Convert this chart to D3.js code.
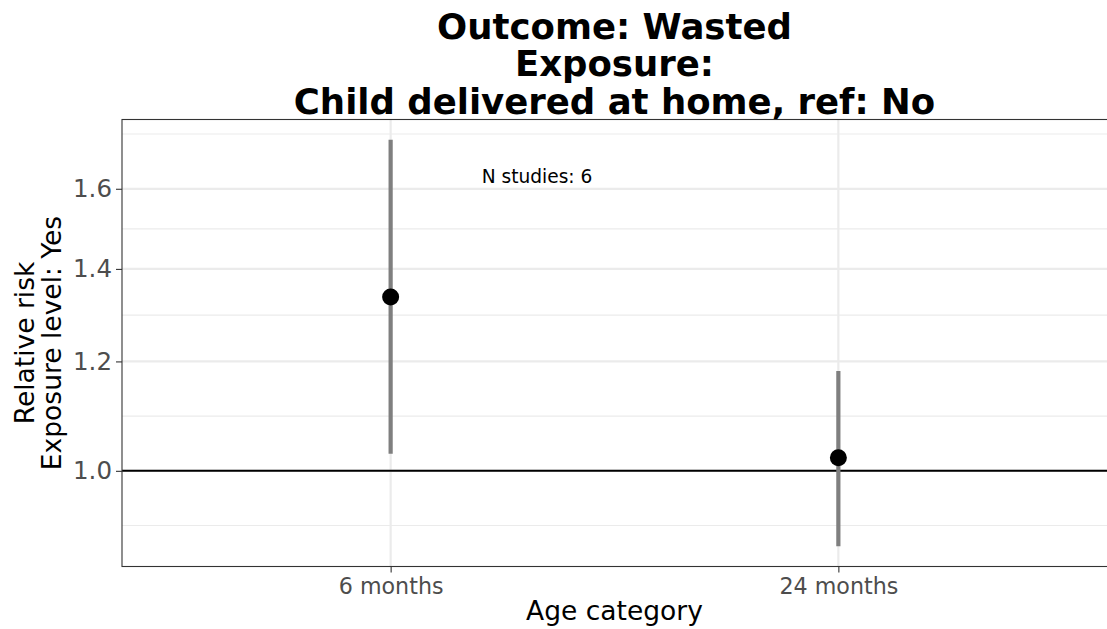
<!DOCTYPE html>
<html>
<head>
<meta charset="utf-8">
<script src="https://cdn.jsdelivr.net/npm/d3@7"></script>
<style>
  html, body { margin: 0; padding: 0; background: #fff; }
  svg text { font-family: "DejaVu Sans", sans-serif; }
</style>
</head>
<body>
<svg id="chart" width="1107" height="629"></svg>
<script>
// ---- data ----
const categories = ["6 months", "24 months"];
const estimates = [1.336, 1.022];
const ciLower = [1.029, 0.882];
const ciUpper = [1.736, 1.181];
const yTickValues = [1.0, 1.2, 1.4, 1.6];
const yTickLabels = ["1.0", "1.2", "1.4", "1.6"];
const titleLines = ["Outcome: Wasted", "Exposure:", "Child delivered at home, ref: No"];
const yTitleLines = ["Relative risk", "Exposure level: Yes"];
const xTitle = "Age category";
const annotation = "N studies: 6";
const refValue = 1.0;

const svg = d3.select("#chart");
const W = 1107, H = 629;
const margin = { left: 122, right: 0, top: 119.5, bottom: 62.5 };
const pw = W - margin.left - margin.right;
const ph = H - margin.top - margin.bottom;

// log y scale with ggplot-like 5% expansion in transformed space
const lo = Math.log(d3.min(ciLower)), hi = Math.log(d3.max(ciUpper));
const pad = (hi - lo) * 0.05;
const y = d3.scaleLog()
  .domain([Math.exp(lo - pad), Math.exp(hi + pad)])
  .range([margin.top + ph, margin.top]);

// discrete x with 0.6 expansion
const xIdx = d3.scaleLinear().domain([0.4, categories.length + 0.6])
  .range([margin.left, margin.left + pw]);
const x = c => xIdx(categories.indexOf(c) + 1);

const g = svg.append("g");

// minor grid (midpoints in log space, extended one step each way)
const lt = yTickValues.map(Math.log);
const step = lt[1] - lt[0];
const ext = [lt[0] - step, ...lt, lt[lt.length - 1] + step];
const minors = [];
for (let i = 0; i < ext.length - 1; i++) minors.push(Math.exp((ext[i] + ext[i + 1]) / 2));
const [dlo, dhi] = y.domain();
g.selectAll(".minor").data(minors.filter(v => v >= dlo && v <= dhi)).enter()
  .append("line")
  .attr("x1", margin.left).attr("x2", margin.left + pw)
  .attr("y1", d => y(d)).attr("y2", d => y(d))
  .attr("stroke", "#ebebeb").attr("stroke-width", 1.1);

// major grid
g.selectAll(".majorY").data(yTickValues).enter()
  .append("line")
  .attr("x1", margin.left).attr("x2", margin.left + pw)
  .attr("y1", d => y(d)).attr("y2", d => y(d))
  .attr("stroke", "#ebebeb").attr("stroke-width", 2.2);
g.selectAll(".majorX").data(categories).enter()
  .append("line")
  .attr("x1", d => x(d)).attr("x2", d => x(d))
  .attr("y1", margin.top).attr("y2", margin.top + ph)
  .attr("stroke", "#ebebeb").attr("stroke-width", 2.2);

// reference line
g.append("line")
  .attr("x1", margin.left).attr("x2", margin.left + pw)
  .attr("y1", y(refValue)).attr("y2", y(refValue))
  .attr("stroke", "#000").attr("stroke-width", 2);

// error bars
g.selectAll(".err").data(categories).enter()
  .append("line")
  .attr("x1", d => x(d)).attr("x2", d => x(d))
  .attr("y1", (d, i) => y(ciLower[i])).attr("y2", (d, i) => y(ciUpper[i]))
  .attr("stroke", "#7f7f7f").attr("stroke-width", 4.2);

// points
g.selectAll(".pt").data(categories).enter()
  .append("circle")
  .attr("cx", d => x(d)).attr("cy", (d, i) => y(estimates[i]))
  .attr("r", 8.5).attr("fill", "#000");

// annotation
g.append("text")
  .attr("x", 537).attr("y", 182.5)
  .attr("text-anchor", "middle").attr("font-size", 18.6).attr("fill", "#000")
  .text(annotation);

// panel border
g.append("rect")
  .attr("x", margin.left).attr("y", margin.top)
  .attr("width", pw + 2).attr("height", ph)
  .attr("fill", "none").attr("stroke", "#333333").attr("stroke-width", 1.1);

// y axis
const yAxis = d3.axisLeft(y).tickValues(yTickValues)
  .tickFormat((d, i) => yTickLabels[i]).tickSize(6).tickPadding(4);
const ya = svg.append("g").attr("transform", `translate(${margin.left},0)`).call(yAxis);
ya.select(".domain").remove();
ya.selectAll(".tick line").attr("stroke", "#333333").attr("stroke-width", 1.1);
ya.selectAll(".tick text").attr("font-size", 24.5).attr("fill", "#4d4d4d")
  .attr("font-family", "DejaVu Sans");

// x axis
const xBand = d3.scaleOrdinal().domain(categories).range(categories.map(x));
const xAxis = d3.axisBottom(xBand).tickSize(6).tickPadding(6);
const xa = svg.append("g").attr("transform", `translate(0,${margin.top + ph})`).call(xAxis);
xa.select(".domain").remove();
xa.selectAll(".tick line").attr("stroke", "#333333").attr("stroke-width", 1.1);
xa.selectAll(".tick text").attr("font-size", 22.2).attr("fill", "#4d4d4d")
  .attr("font-family", "DejaVu Sans");

// x title
svg.append("text")
  .attr("x", margin.left + pw / 2).attr("y", 620)
  .attr("text-anchor", "middle").attr("font-size", 26.5).attr("fill", "#000")
  .text(xTitle);

// y title (two lines rotated)
const cy = margin.top + ph / 2;
yTitleLines.forEach((t, i) => {
  svg.append("text")
    .attr("transform", `translate(${34 + i * 27},${cy}) rotate(-90)`)
    .attr("text-anchor", "middle").attr("font-size", 26.5).attr("fill", "#000")
    .text(t);
});

// title
titleLines.forEach((t, i) => {
  svg.append("text")
    .attr("x", margin.left + pw / 2).attr("y", 38.5 + i * 37.5)
    .attr("text-anchor", "middle").attr("font-size", 35.5).attr("font-weight", "bold")
    .attr("fill", "#000")
    .text(t);
});
</script>
</body>
</html>
